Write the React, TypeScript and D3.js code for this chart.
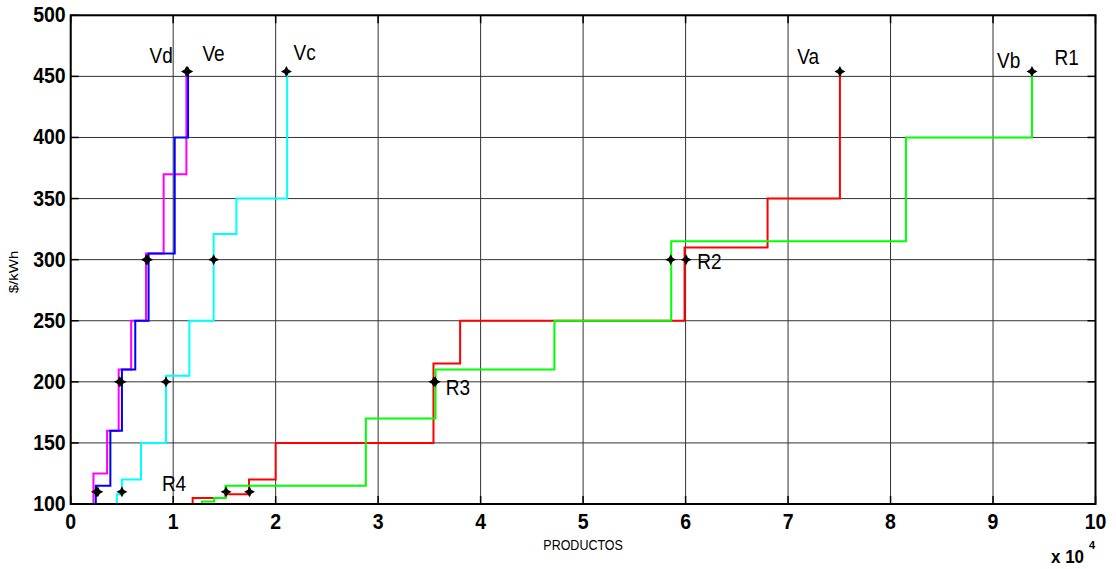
import React from "react";
import * as d3 from "d3";

// ---- data (x in units of 10^4, y in $/kWh) ----
const xTicks = [0, 1, 2, 3, 4, 5, 6, 7, 8, 9, 10];
const yTicks = [100, 150, 200, 250, 300, 350, 400, 450, 500];

// stairs: rise at stepX[i] up to level[i], then run to stepX[i+1]
const vdX = [0.222, 0.355, 0.468, 0.59, 0.735, 0.907, 1.129];
const vdY = [125, 160, 210, 250, 305, 370, 454];

const veX = [0.245, 0.387, 0.5, 0.63, 0.76, 1.015, 1.145];
const veY = [115, 160, 210, 250, 305, 400, 454];

const vcX = [0.45, 0.5, 0.686, 0.93, 1.158, 1.395, 1.617, 2.112];
const vcY = [108, 120, 150, 205, 250, 321, 350, 454];

const vaX = [1.19, 1.51, 1.74, 2.0, 3.54, 3.8, 5.99, 6.8, 7.506];
const vaY = [105, 108, 120, 150, 215, 250, 310, 350, 454];

const vbX = [1.28, 1.4, 1.51, 2.88, 3.56, 4.72, 5.86, 8.15, 9.38];
const vbY = [102, 105, 115, 170, 210, 250, 315, 400, 454];

const markerX = [0.25, 0.265, 0.5, 0.475, 0.492, 0.93, 0.737, 0.752, 1.395, 1.13, 1.142, 2.105, 1.516, 1.745, 3.543, 3.558, 5.855, 6.005, 7.506, 9.38];
const markerY = [110, 110, 110, 200, 200, 200, 300, 300, 300, 454, 454, 454, 110, 110, 200, 200, 300, 300, 454, 454];

const labelText = ["Vd", "Ve", "Vc", "Va", "Vb", "R1", "R2", "R3", "R4"];
const labelX = [0.77, 1.285, 2.175, 7.09, 9.04, 9.6, 6.115, 3.66, 0.89];
const labelY = [461, 462.5, 463.5, 460, 457, 459, 292, 189, 111];

const W = 1116, H = 569;
const L = 70.7, R = 1095.5, T = 15.3, B = 504;

const x = d3.scaleLinear().domain([0, 10]).range([L, R]);
const y = d3.scaleLinear().domain([100, 500]).range([B, T]);

function stairs(xs: number[], ys: number[]) {
  let p = `M${x(xs[0])},${y(100)}`;
  for (let i = 0; i < xs.length; i++) {
    if (i > 0) p += `H${x(xs[i])}`;
    p += `V${y(ys[i])}`;
  }
  return p;
}

const star = "M0,-5.5L1.9,-1.9L5.5,0L1.9,1.9L0,5.5L-1.9,1.9L-5.5,0L-1.9,-1.9Z";

export default function App() {
  const font = "'Liberation Sans', Arial, sans-serif";
  const series = [
    { xs: vdX, ys: vdY, c: "#ff00ff" },
    { xs: veX, ys: veY, c: "#0000ff" },
    { xs: vcX, ys: vcY, c: "#00ffff" },
    { xs: vaX, ys: vaY, c: "#ff0000" },
    { xs: vbX, ys: vbY, c: "#00ff00" },
  ];
  return (
    <svg width={W} height={H} style={{ position: "absolute", left: 0, top: 0, background: "#fff" }} fontFamily={font}>
      <rect x={0} y={0} width={W} height={H} fill="#fff" />
      {/* grid */}
      {xTicks.map((t) => (
        <line key={"gx" + t} x1={x(t)} x2={x(t)} y1={T} y2={B} stroke="#333" strokeWidth={1} />
      ))}
      {yTicks.map((t) => (
        <line key={"gy" + t} x1={L} x2={R} y1={y(t)} y2={y(t)} stroke="#333" strokeWidth={1} />
      ))}
      {/* ticks */}
      {xTicks.map((t) => (
        <g key={"tx" + t}>
          <line x1={x(t)} x2={x(t)} y1={B} y2={B - 8} stroke="#000" strokeWidth={1.5} />
          <line x1={x(t)} x2={x(t)} y1={T} y2={T + 8} stroke="#000" strokeWidth={1.5} />
        </g>
      ))}
      {yTicks.map((t) => (
        <g key={"ty" + t}>
          <line x1={L} x2={L + 8} y1={y(t)} y2={y(t)} stroke="#000" strokeWidth={1.5} />
          <line x1={R} x2={R - 8} y1={y(t)} y2={y(t)} stroke="#000" strokeWidth={1.5} />
        </g>
      ))}
      {/* series */}
      {series.map((s, i) => (
        <path key={"s" + i} d={stairs(s.xs, s.ys)} fill="none" stroke={s.c} strokeWidth={2} />
      ))}
      {/* markers */}
      {markerX.map((mx, i) => (
        <path key={"m" + i} d={star} transform={`translate(${x(mx)},${y(markerY[i])})`} fill="#000" />
      ))}
      {/* frame */}
      <rect x={L} y={T} width={R - L} height={B - T} fill="none" stroke="#000" strokeWidth={2} />
      {/* tick labels */}
      {xTicks.map((t) => (
        <text key={"lx" + t} transform={`translate(${x(t)},${B + 25}) scale(1,1.1)`} textAnchor="middle" fontSize={19.5} fontWeight="bold">
          {t}
        </text>
      ))}
      {yTicks.map((t) => (
        <text key={"ly" + t} transform={`translate(${L - 5},${y(t) + 7}) scale(1,1.1)`} textAnchor="end" fontSize={19.5} fontWeight="bold">
          {t}
        </text>
      ))}
      {/* annotations */}
      {labelText.map((s, i) => (
        <text key={"a" + i} transform={`translate(${x(labelX[i])},${y(labelY[i])}) scale(1,1.15)`} fontSize={19}>
          {s}
        </text>
      ))}
      {/* axis labels */}
      <text transform={`translate(${x(5)},${550}) scale(1,1.2)`} textAnchor="middle" fontSize={12.5}>
        PRODUCTOS
      </text>
      <text transform={`translate(${18},${272}) rotate(-90) scale(1.2,1)`} textAnchor="middle" fontSize={12.5}>
        $/kWh
      </text>
      <text transform={`translate(${1051},${563}) scale(1,1.1)`} fontSize={17} fontWeight="bold">
        x 10
      </text>
      <text transform={`translate(${1089},${549})`} fontSize={11} fontWeight="bold">
        4
      </text>
    </svg>
  );
}
